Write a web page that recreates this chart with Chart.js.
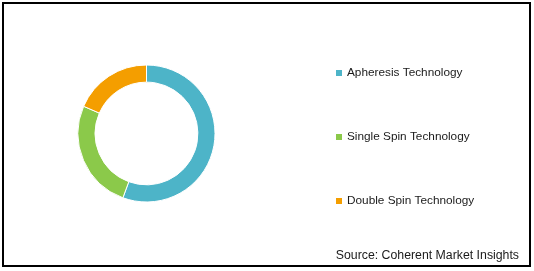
<!DOCTYPE html>
<html>
<head>
<meta charset="utf-8">
<script src="https://cdn.jsdelivr.net/npm/chart.js@4"></script>
<style>
  html, body { margin: 0; padding: 0; background: #fff; }
  #wrap { width: 534px; height: 271px; position: relative; }
</style>
</head>
<body>
<div id="wrap"><canvas id="myChart" width="534" height="271"></canvas></div>
<script>
const labels = ['Apheresis Technology', 'Single Spin Technology', 'Double Spin Technology'];
const shares = [55.6, 25.9, 18.5];
const colors = ['#4db4c8', '#8bc94a', '#f49e00'];
const sourceText = 'Source: Coherent Market Insights';

// legend, frame and source note drawn by hand to match the original layout
const extras = {
    id: 'extras',
    afterDraw(chart) {
        const c = chart.ctx;
        c.save();
        c.strokeStyle = '#000';
        c.lineWidth = 2;
        c.strokeRect(3, 3, 527, 263);

        c.font = '11.8px "Liberation Sans", Arial, sans-serif';
        c.textBaseline = 'middle';
        const ys = [73, 137, 201];
        chart.data.labels.forEach((lab, i) => {
            c.fillStyle = chart.data.datasets[0].backgroundColor[i];
            c.fillRect(336, ys[i] - 3, 6, 6);
            c.fillStyle = '#1a1a1a';
            c.fillText(lab, 347, ys[i]);
        });

        c.font = '12.3px "Liberation Sans", Arial, sans-serif';
        c.textAlign = 'right';
        c.fillText(sourceText, 519, 256);
        c.restore();
    }
};

const ctx = document.getElementById('myChart');

new Chart(ctx, {
    type: 'doughnut',
    data: {
        labels: labels,
        datasets: [{
            data: shares,
            backgroundColor: colors,
            borderColor: '#fff',
            borderWidth: 1
        }]
    },
    options: {
        responsive: false,
        animation: false,
        cutout: '75%',
        layout: {
            padding: { left: 77.5, right: 318.5, top: 64.5, bottom: 68.5 }
        },
        plugins: {
            legend: { display: false },
            tooltip: { enabled: false }
        }
    },
    plugins: [extras]
});
</script>
</body>
</html>
